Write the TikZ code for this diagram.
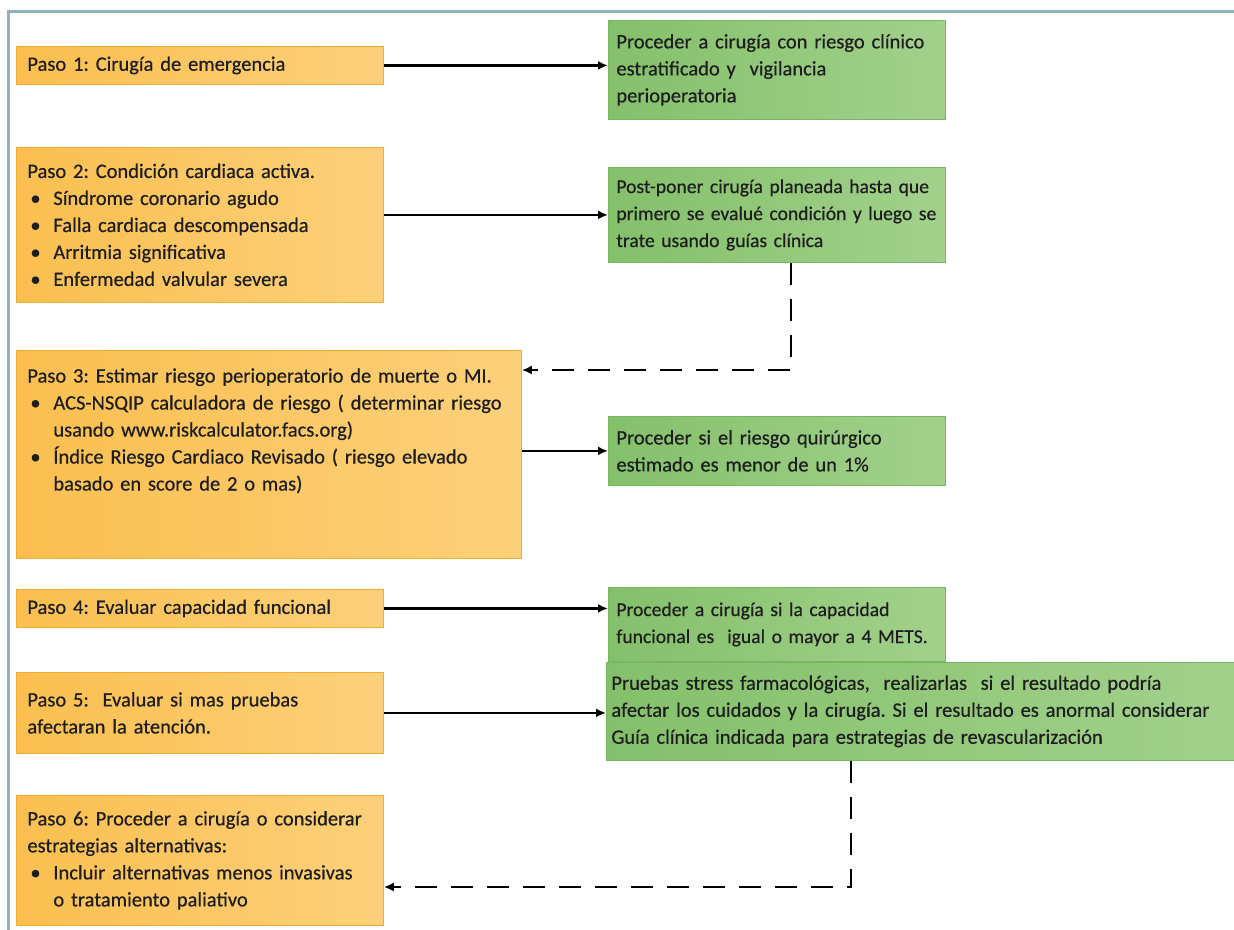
\documentclass[tikz,border=0pt]{standalone}
\usepackage{fontspec}
\setmainfont{Carlito}[FakeBold=0.5, WordSpace=0.8]
\usepackage{tikz}
\usetikzlibrary{arrows.meta,positioning,calc}
\usepackage{xcolor}
\definecolor{pasoA}{HTML}{FABF4F}
\definecolor{pasoB}{HTML}{FCD07A}
\definecolor{pasoline}{HTML}{F0AE35}
\definecolor{accA}{HTML}{84C06A}
\definecolor{accB}{HTML}{A2D18C}
\definecolor{accline}{HTML}{78B65F}
\definecolor{marcoline}{HTML}{8DB2C0}
\definecolor{texto}{HTML}{1E1E1E}
\frenchspacing
\newcommand{\fuente}{\fontsize{20.5}{27}\selectfont\frenchspacing}
\newcommand{\fuentechica}{\fontsize{19.6}{27}\selectfont\frenchspacing}
\newcommand{\vin}[1]{\par\hangindent=26pt\hangafter=1\noindent\makebox[26pt][l]{\hspace{3pt}•}#1\par}

\begin{document}
\begin{tikzpicture}[
  x=1pt, y=-1pt,
  paso/.style={draw=pasoline, line width=0.8pt, left color=pasoA, right color=pasoB, anchor=north west, align=left, text width=345pt, inner xsep=11pt, inner ysep=4pt, font=\fuente, text=texto},
  accion/.style={draw=accline, line width=0.8pt, left color=accA, right color=accB, anchor=north west, align=left, text width=321pt, inner xsep=8pt, inner ysep=4pt, font=\fuente, text=texto},
  flecha/.style={-{Latex[length=10pt,width=9pt]}, line width=2.8pt, draw=black},
  rayada/.style={flecha, dash pattern=on 22pt off 14pt}
]
\useasboundingbox (0,0) rectangle (1234,929);
\draw[marcoline, line width=3pt] (8,940) -- (8,11) -- (1245,11);
% pasos
\node[paso, minimum height=38pt] (p1) at (16,46) {Paso 1: Cirugía de emergencia};
\node[paso, minimum height=155pt] (p2) at (16,147) {Paso 2: Condición cardiaca activa.
  \vin{Síndrome coronario agudo}
  \vin{Falla cardiaca descompensada}
  \vin{Arritmia significativa}
  \vin{Enfermedad valvular severa}};
\node[paso, text width=483pt, minimum height=208pt, text depth=158pt] (p3) at (16,350) {Paso 3: Estimar riesgo perioperatorio de muerte o MI.
  \vin{ACS-NSQIP calculadora de riesgo ( determinar riesgo\newline usando www.riskcalculator.facs.org)}
  \vin{Índice Riesgo Cardiaco Revisado ( riesgo elevado\newline basado en score de 2 o mas)}};
\node[paso, minimum height=38pt] (p4) at (16,589) {Paso 4: Evaluar capacidad funcional};
\node[paso, minimum height=81pt] (p5) at (16,672) {Paso 5:\ \ Evaluar si mas pruebas\\afectaran la atención.};
\node[paso, minimum height=130pt] (p6) at (16,795) {Paso 6: Proceder a cirugía o considerar\\estrategias alternativas:
  \vin{Incluir alternativas menos invasivas\newline o tratamiento paliativo}};
% acciones
\node[accion, minimum height=99pt] (a1) at (608,20) {Proceder a cirugía con riesgo clínico\\estratificado y\ \ vigilancia\\perioperatoria};
\node[accion, font=\fuentechica, minimum height=95pt] (a2) at (608,167) {Post-poner cirugía planeada hasta que\\primero se evalué condición y luego se\\trate usando guías clínica};
\node[accion, minimum height=69pt] (a3) at (608,416) {Proceder si el riesgo quirúrgico\\estimado es menor de un 1\%};
\node[accion, font=\fuentechica, minimum height=74pt] (a4) at (608,587) {Proceder a cirugía si la capacidad\\funcional es\ \ igual o mayor a 4 METS.};
\node[accion, text width=625pt, inner xsep=5pt, minimum height=98pt] (a5) at (606,662) {Pruebas stress farmacológicas,\ \ realizarlas\ \ si el resultado podría\\afectar los cuidados y la cirugía. Si el resultado es anormal considerar\\Guía clínica indicada para estrategias de revascularización};
% conectores
\draw[flecha] (p1.east) -- (p1.east -| a1.west);
\draw[flecha] (p2.east |- a2.west) -- (a2.west);
\draw[flecha] (p3.east |- a3.west) -- (a3.west);
\draw[flecha] (p4.east) -- (p4.east -| a4.west);
\draw[flecha] (p5.east) -- (p5.east -| a5.west);
\draw[rayada] ([xshift=14pt]a2.south) |- ([yshift=-20pt]p3.north east);
\draw[rayada] ([xshift=-73pt]a5.south) |- ([yshift=-92pt]p6.north east);
\end{tikzpicture}
\end{document}
